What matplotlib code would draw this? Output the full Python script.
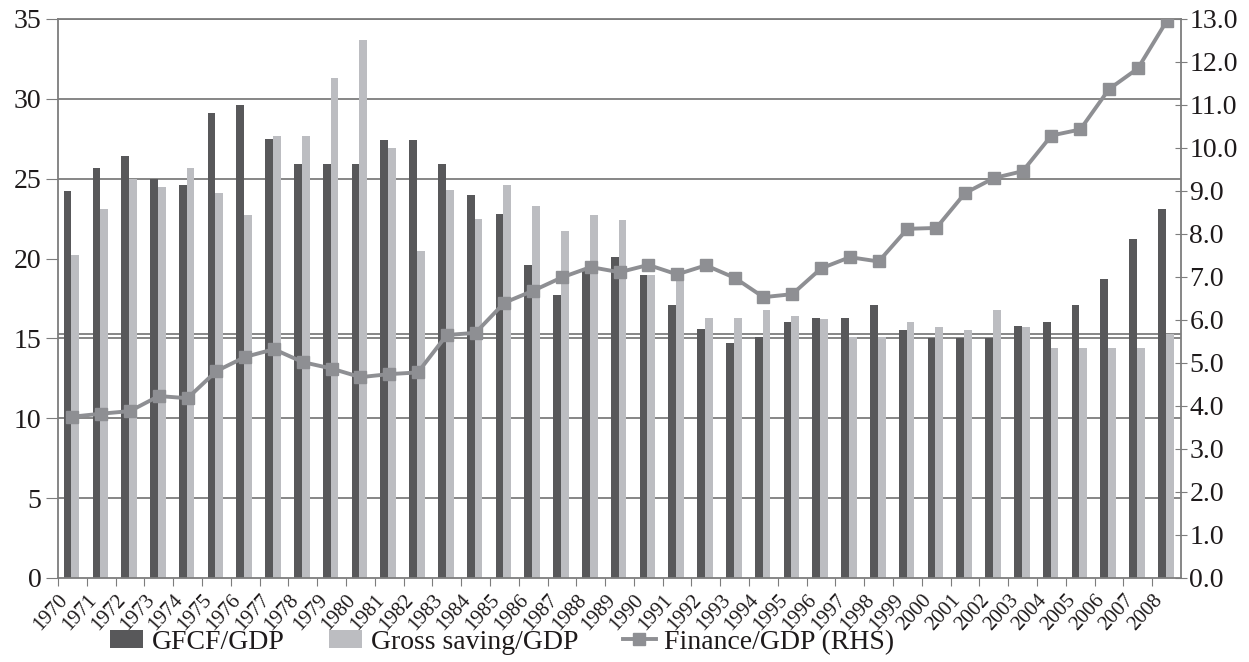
import numpy as np
import matplotlib
matplotlib.use('Agg')
import matplotlib.pyplot as plt

# values (% of GDP)
years = list(range(1970, 2009))
gfcf = [24.2, 25.7, 26.4, 25.0, 24.6, 29.1, 29.6, 27.5, 25.9, 25.9,
        25.9, 27.4, 27.4, 25.9, 24.0, 22.8, 19.6, 17.7, 19.2, 20.1,
        19.0, 17.1, 15.6, 14.7, 15.1, 16.0, 16.3, 16.3, 17.1, 15.5,
        15.0, 15.0, 15.0, 15.8, 16.0, 17.1, 18.7, 21.2, 23.1]
saving = [20.2, 23.1, 25.0, 24.5, 25.7, 24.1, 22.7, 27.7, 27.7, 31.3,
          33.7, 26.9, 20.5, 24.3, 22.5, 24.6, 23.3, 21.7, 22.7, 22.4,
          19.0, 18.6, 16.3, 16.3, 16.8, 16.4, 16.2, 15.1, 15.1, 16.0,
          15.7, 15.5, 16.8, 15.7, 14.4, 14.4, 14.4, 14.4, 15.3]
finance = [3.75, 3.82, 3.88, 4.23, 4.18, 4.81, 5.14, 5.32, 5.02, 4.87,
           4.67, 4.74, 4.78, 5.65, 5.70, 6.40, 6.68, 6.99, 7.23, 7.11,
           7.28, 7.06, 7.27, 6.98, 6.53, 6.60, 7.20, 7.46, 7.36, 8.12,
           8.14, 8.95, 9.30, 9.46, 10.29, 10.43, 11.37, 11.85, 12.95]
left_ticks = [0, 5, 10, 15, 20, 25, 30, 35]
right_ticks = list(range(0, 14))
# the scan has no line at 20 and a doubled one near 15
grid_levels = [5, 10, 15, 15.25, 25, 30, 35]

dark = '#58585a'
light = '#bcbdc1'
linec = '#8e8f93'
gridc = '#7d7d7d'
txt = '#1e1a1b'

plt.rcParams['font.family'] = ['Liberation Serif', 'DejaVu Serif']

fig = plt.figure(figsize=(12.49, 6.62), dpi=100)
ax = fig.add_axes([0.0464, 0.127, 0.8992, 0.8443])
x = np.arange(len(years))
w = 0.27

for g in grid_levels:
    ax.axhline(g, color=gridc, lw=1.3, zorder=0)

b1 = ax.bar(x - 0.165, gfcf, w, color=dark, label='GFCF/GDP', zorder=2)
b2 = ax.bar(x + 0.105, saving, w, color=light, label='Gross saving/GDP', zorder=2)

ax.set_xlim(-0.5, len(years) - 0.5)
ax.set_ylim(0, 35)
ax.set_yticks(left_ticks)
ax.set_yticklabels([str(t) for t in left_ticks], fontsize=20, color=txt)
ax.set_xticks(x - 0.5)
ax.set_xticklabels([str(y) for y in years], rotation=48, ha='right', va='top',
                   rotation_mode='anchor', fontsize=15, color=txt)
ax.tick_params(axis='x', direction='out', length=6, color=gridc, pad=3)
ax.tick_params(axis='y', direction='out', length=9, color=gridc, pad=3)
for s in ['left', 'bottom', 'right', 'top']:
    ax.spines[s].set_color(gridc)
    ax.spines[s].set_linewidth(1.3)

ax2 = ax.twinx()
l1, = ax2.plot(x, finance, color=linec, lw=2.8, marker='s', markersize=8,
               label='Finance/GDP (RHS)', zorder=3)
ax2.set_ylim(0, 13)
ax2.set_yticks(right_ticks)
ax2.set_yticklabels(['{:.1f}'.format(t) for t in right_ticks], fontsize=20, color=txt)
ax2.tick_params(axis='y', direction='inout', length=8, color=gridc, pad=2)
for s in ['left', 'bottom', 'right', 'top']:
    ax2.spines[s].set_visible(False)

fig.legend(handles=[b1, b2, l1], loc='center', bbox_to_anchor=(0.402, 0.030),
           ncol=3, frameon=False, fontsize=20, handlelength=1.2, handleheight=0.6,
           handletextpad=0.3, columnspacing=1.6, labelcolor=txt)

plt.savefig('out.png', dpi=100)
